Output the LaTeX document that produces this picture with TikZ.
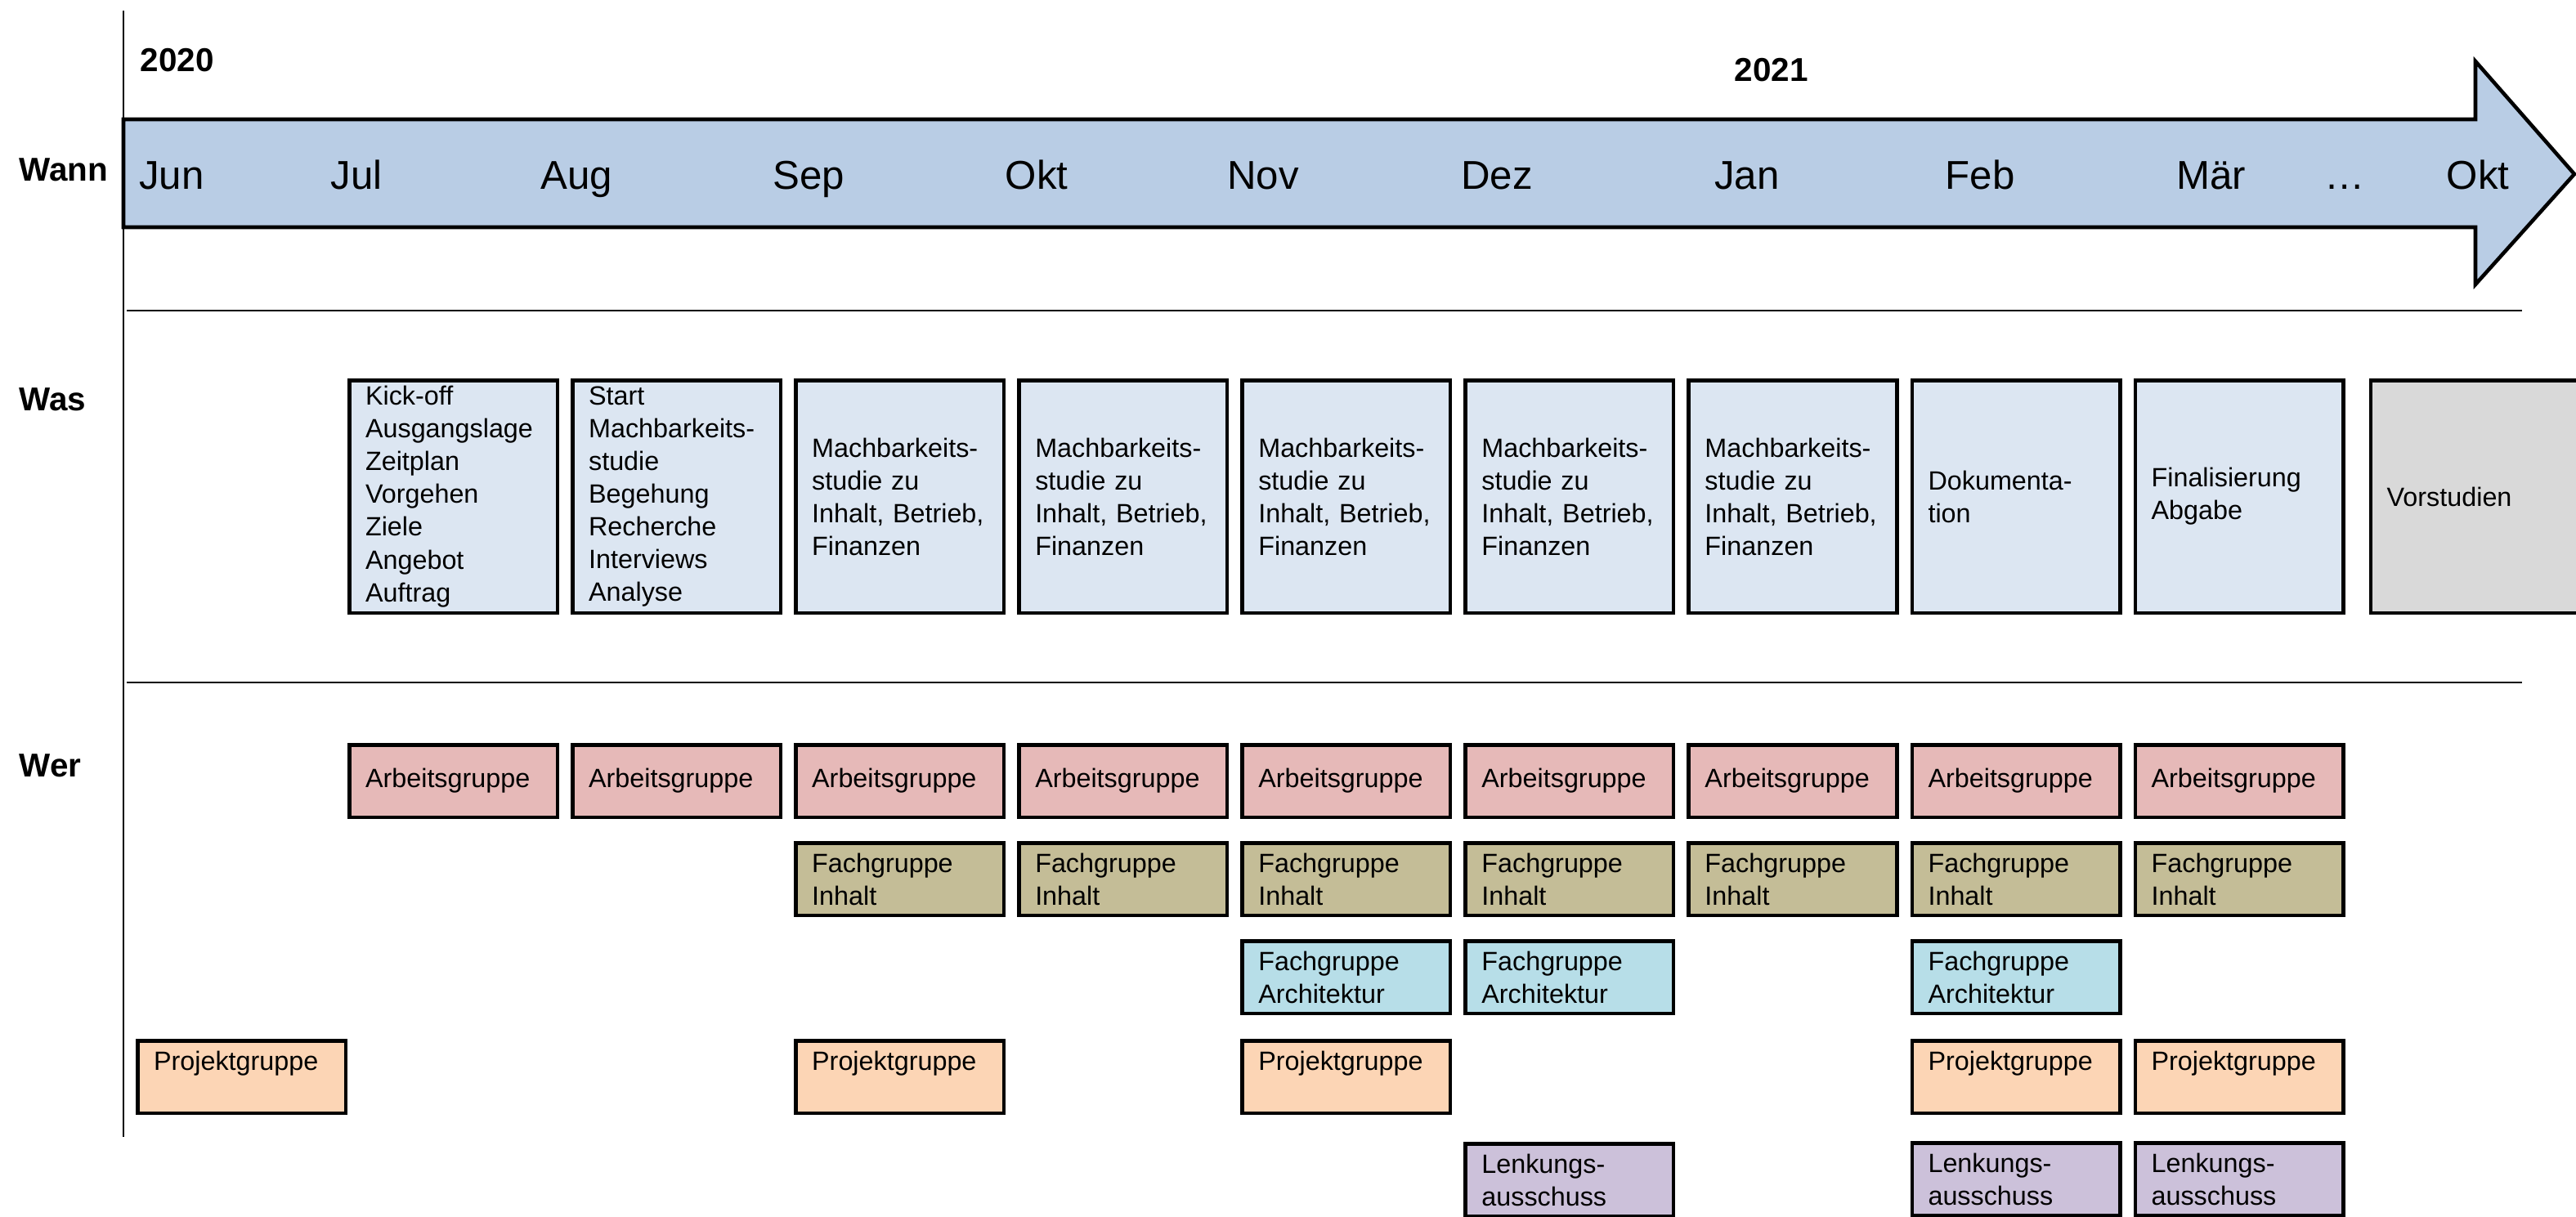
\documentclass[tikz,border=0pt]{standalone}
\usepackage{fontspec}
\setmainfont{Liberation Sans}
\usepackage{tikz}
\usetikzlibrary{positioning}

\definecolor{timeblue}{HTML}{B9CDE5}
\definecolor{wasfill}{HTML}{DCE6F2}
\definecolor{vorfill}{HTML}{D9D9D9}
\definecolor{agfill}{HTML}{E6B9B8}
\definecolor{fifill}{HTML}{C4BD97}
\definecolor{fafill}{HTML}{B7DEE8}
\definecolor{pgfill}{HTML}{FCD5B5}
\definecolor{lafill}{HTML}{CCC1DA}

\begin{document}
\begin{tikzpicture}[
    node distance=0.27cm and 0.14cm,
    box/.style={rectangle, draw, line width=1.3pt, minimum width=2.545cm, inner xsep=0pt, text width=2.15cm, align=left, font=\fontsize{9.2}{11.4}\selectfont},
    was/.style={box, fill=wasfill, minimum height=2.845cm, inner ysep=0pt},
    wer/.style={box, minimum height=0.885cm},
    ag/.style={wer, fill=agfill},
    fi/.style={wer, fill=fifill},
    fa/.style={wer, fill=fafill},
    pg/.style={wer, fill=pgfill, text depth=0.40cm},
    la/.style={wer, fill=lafill},
    month/.style={font=\fontsize{14}{16}\selectfont, anchor=base},
    rowlabel/.style={font=\fontsize{11.5}{13}\selectfont\bfseries, anchor=base west, inner sep=0pt},
    thinline/.style={line width=0.7pt}
]
    \useasboundingbox (0,0) rectangle (31.51,-14.89);

    % Zeitachse
    \draw[line width=1.3pt, fill=timeblue] (1.51,-1.46) -- (30.28,-1.46) -- (30.28,-0.75) -- (31.49,-2.13) -- (30.28,-3.48) -- (30.28,-2.78) -- (1.51,-2.78) -- cycle;
    \draw[thinline] (1.51,-0.13) -- (1.51,-13.91);
    \draw[thinline] (1.55,-3.80) -- (30.85,-3.80);
    \draw[thinline] (1.55,-8.35) -- (30.85,-8.35);

    % Labels links und Jahre
    \node[rowlabel] (wann) at (0.23,-2.21) {Wann};
    \node[rowlabel] (was) at (0.23,-5.02) {Was};
    \node[rowlabel] (wer) at (0.23,-9.50) {Wer};
    \node[rowlabel] (y2020) at (1.71,-0.87) {2020};
    \node[rowlabel] (y2021) at (21.21,-0.99) {2021};

    % Monate
    \node[month] (mJun) at (2.10,-2.31) {Jun};
    \node[month] (mJul) at (4.36,-2.31) {Jul};
    \node[month] (mAug) at (7.05,-2.31) {Aug};
    \node[month] (mSep) at (9.89,-2.31) {Sep};
    \node[month] (mOkt) at (12.68,-2.31) {Okt};
    \node[month] (mNov) at (15.45,-2.31) {Nov};
    \node[month] (mDez) at (18.31,-2.31) {Dez};
    \node[month] (mJan) at (21.37,-2.31) {Jan};
    \node[month] (mFeb) at (24.22,-2.31) {Feb};
    \node[month] (mMar) at (27.05,-2.31) {Mär};
    \node[month] (mDots) at (28.68,-2.31) {…};
    \node[month] (mOktb) at (30.31,-2.31) {Okt};

    % Was
    \node[was, anchor=north west] (wasJul) at (4.25,-4.63) {Kick-off\\Ausgangslage\\Zeitplan\\Vorgehen\\Ziele\\Angebot\\Auftrag};
    \node[was, right=of wasJul] (wasAug) {Start\\Machbarkeits-\\studie\\Begehung\\Recherche\\Interviews\\Analyse};
    \node[was, right=of wasAug] (wasSep) {Machbarkeits-\\studie zu\\Inhalt, Betrieb,\\Finanzen};
    \node[was, right=of wasSep] (wasOkt) {Machbarkeits-\\studie zu\\Inhalt, Betrieb,\\Finanzen};
    \node[was, right=of wasOkt] (wasNov) {Machbarkeits-\\studie zu\\Inhalt, Betrieb,\\Finanzen};
    \node[was, right=of wasNov] (wasDez) {Machbarkeits-\\studie zu\\Inhalt, Betrieb,\\Finanzen};
    \node[was, right=of wasDez] (wasJan) {Machbarkeits-\\studie zu\\Inhalt, Betrieb,\\Finanzen};
    \node[was, right=of wasJan] (wasFeb) {Dokumenta-\\tion};
    \node[was, right=of wasFeb] (wasMar) {Finalisierung\\Abgabe};
    \node[was, fill=vorfill, right=0.29cm of wasMar] (wasVor) {Vorstudien};

    % Wer: Arbeitsgruppe
    \node[ag, below=1.57cm of wasJul] (agJul) {Arbeitsgruppe};
    \node[ag, below=1.57cm of wasAug] (agAug) {Arbeitsgruppe};
    \node[ag, below=1.57cm of wasSep] (agSep) {Arbeitsgruppe};
    \node[ag, below=1.57cm of wasOkt] (agOkt) {Arbeitsgruppe};
    \node[ag, below=1.57cm of wasNov] (agNov) {Arbeitsgruppe};
    \node[ag, below=1.57cm of wasDez] (agDez) {Arbeitsgruppe};
    \node[ag, below=1.57cm of wasJan] (agJan) {Arbeitsgruppe};
    \node[ag, below=1.57cm of wasFeb] (agFeb) {Arbeitsgruppe};
    \node[ag, below=1.57cm of wasMar] (agMar) {Arbeitsgruppe};

    % Wer: Fachgruppe Inhalt
    \node[fi, below=of agSep] (fiSep) {Fachgruppe\\Inhalt};
    \node[fi, below=of agOkt] (fiOkt) {Fachgruppe\\Inhalt};
    \node[fi, below=of agNov] (fiNov) {Fachgruppe\\Inhalt};
    \node[fi, below=of agDez] (fiDez) {Fachgruppe\\Inhalt};
    \node[fi, below=of agJan] (fiJan) {Fachgruppe\\Inhalt};
    \node[fi, below=of agFeb] (fiFeb) {Fachgruppe\\Inhalt};
    \node[fi, below=of agMar] (fiMar) {Fachgruppe\\Inhalt};

    % Wer: Fachgruppe Architektur
    \node[fa, below=of fiNov] (faNov) {Fachgruppe\\Architektur};
    \node[fa, below=of fiDez] (faDez) {Fachgruppe\\Architektur};
    \node[fa, below=of fiFeb] (faFeb) {Fachgruppe\\Architektur};

    % Wer: Projektgruppe
    \node[pg, anchor=north west] (pgJun) at (1.66,-12.71) {Projektgruppe};
    \node[pg, below=1.49cm of fiSep] (pgSep) {Projektgruppe};
    \node[pg, below=0.29cm of faNov] (pgNov) {Projektgruppe};
    \node[pg, below=0.29cm of faFeb] (pgFeb) {Projektgruppe};
    \node[pg, below=1.49cm of fiMar] (pgMar) {Projektgruppe};

    % Wer: Lenkungsausschuss
    \node[la, below=1.55cm of faDez] (laDez) {Lenkungs-\\ausschuss};
    \node[la, below=0.32cm of pgFeb] (laFeb) {Lenkungs-\\ausschuss};
    \node[la, below=0.32cm of pgMar] (laMar) {Lenkungs-\\ausschuss};

\end{tikzpicture}
\end{document}
